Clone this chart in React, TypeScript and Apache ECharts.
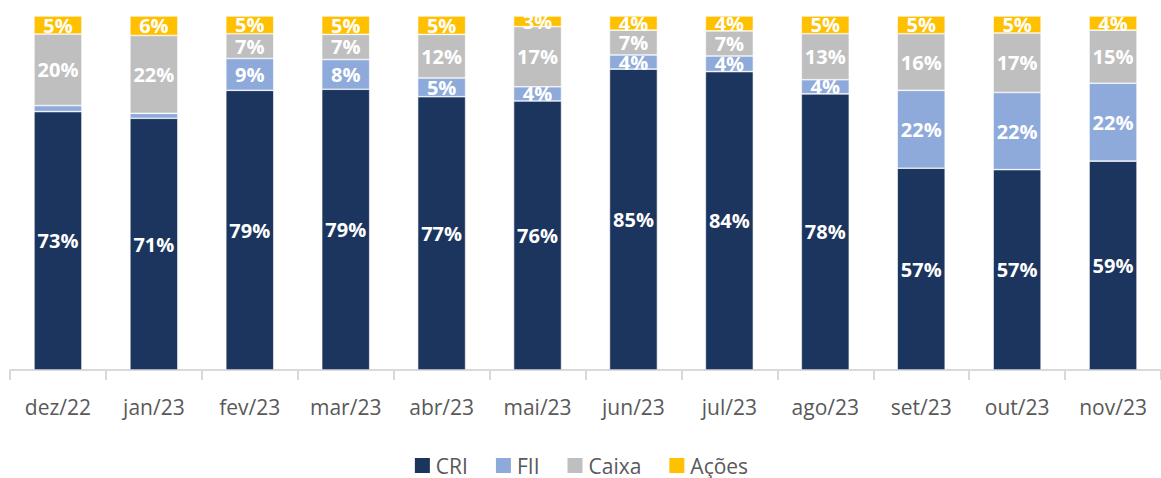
import React, { useEffect, useRef } from "react";
import * as echarts from "echarts";

const categories = ["dez/22", "jan/23", "fev/23", "mar/23", "abr/23", "mai/23", "jun/23", "jul/23", "ago/23", "set/23", "out/23", "nov/23"];
const cri = [73, 71.1, 79, 79.3, 77.2, 76, 85, 84.3, 78, 57, 56.6, 59];
const fii = [1.7, 1.4, 9, 8.4, 5.3, 4, 4, 4.4, 4, 22, 21.8, 22];
const caixa = [20.2, 22, 7, 7.1, 12.3, 17, 7, 7.1, 13, 16, 16.8, 15];
const acoes = [5.1, 5.5, 5, 5.2, 5.2, 3, 4, 4.2, 5, 5, 4.8, 4];

const FONT = "'Open Sans', sans-serif";

export default function App() {
  const ref = useRef<HTMLDivElement>(null);
  useEffect(() => {
    const chart = echarts.init(ref.current!, null, { renderer: "svg" });
    const mk = (name: string, data: number[], color: string) => ({
      name,
      type: "bar",
      stack: "total",
      data,
      barWidth: "50%",
      itemStyle: { color, borderColor: "#ffffff", borderWidth: 0.6 },
      label: {
        show: true,
        position: "inside",
        color: "#ffffff",
        fontFamily: FONT,
        fontWeight: "bold",
        fontSize: 20,
        formatter: (p: any) => (p.value < 2 ? "" : Math.round(p.value) + "%"),
      },
    });
    chart.setOption({
      animation: false,
      grid: { left: 10, right: 0, top: 16, bottom: 108, containLabel: false },
      legend: {
        top: 455,
        left: "center",
        itemWidth: 17,
        itemHeight: 17,
        itemGap: 26,
        padding: 0,
        icon: "rect",
        textStyle: { color: "#595959", fontSize: 21, fontFamily: FONT, lineHeight: 20 },
        data: ["CRI", "FII", "Caixa", "Ações"],
      },
      xAxis: {
        type: "category",
        data: categories,
        axisLine: { lineStyle: { color: "#d9d9d9", width: 2 } },
        axisTick: { show: true, length: 10, lineStyle: { color: "#d9d9d9", width: 2 } },
        axisLabel: { color: "#595959", fontSize: 21, fontFamily: FONT, margin: 26, interval: 0 },
      },
      yAxis: { type: "value", min: 0, max: 100, show: false },
      series: [
        mk("CRI", cri, "#1c355e"),
        mk("FII", fii, "#8eaadb"),
        mk("Caixa", caixa, "#bfbfbf"),
        mk("Ações", acoes, "#ffc000"),
      ],
    });
    return () => chart.dispose();
  }, []);
  return (
    <div
      ref={ref}
      style={{ position: "absolute", left: 0, top: 0, width: 1161, height: 478, background: "#fff" }}
    />
  );
}
